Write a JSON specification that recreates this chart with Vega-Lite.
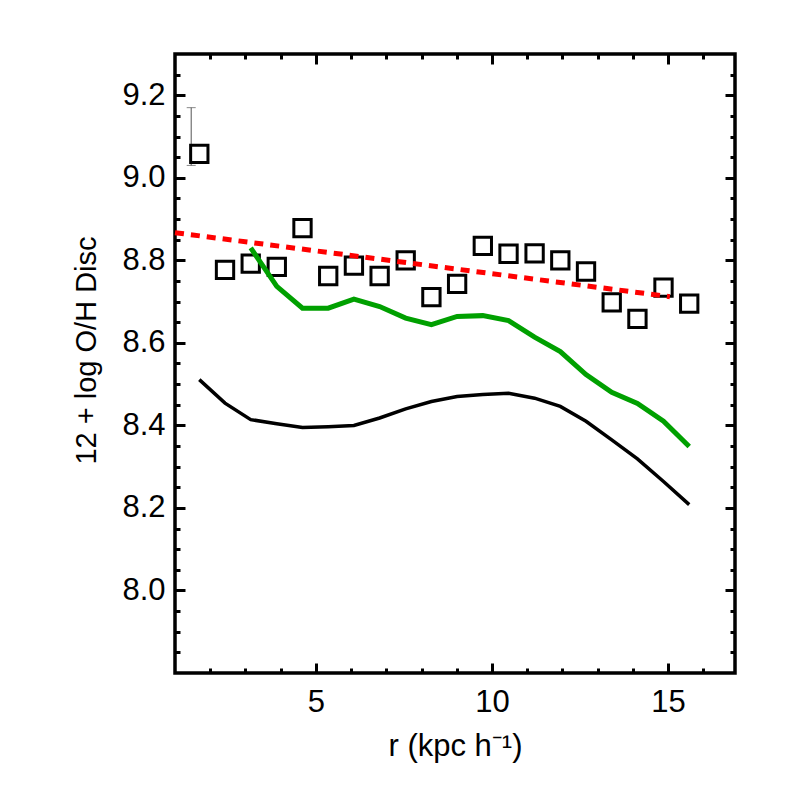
{
  "$schema": "https://vega.github.io/schema/vega-lite/v6.json",
  "width": 560,
  "height": 619,
  "autosize": {"type": "none"},
  "padding": {"left": 175, "top": 54, "right": 51, "bottom": 113},
  "background": "white",
  "config": {
    "view": {"stroke": "black", "strokeWidth": 3.5},
    "axis": {
      "grid": false,
      "domain": false,
      "labelFont": "Liberation Sans",
      "titleFont": "Liberation Sans",
      "labelFontSize": 31,
      "titleFontSize": 31,
      "labelColor": "black",
      "titleColor": "black",
      "tickColor": "black",
      "tickWidth": 3,
      "titleFontWeight": "normal",
      "labelFlush": false,
      "labelOverlap": false
    }
  },
  "datasets": {
    "squares": [
      {"r": 1.69, "oh": 9.058}, {"r": 2.42, "oh": 8.777}, {"r": 3.15, "oh": 8.792}, {"r": 3.89, "oh": 8.784},
      {"r": 4.62, "oh": 8.878}, {"r": 5.35, "oh": 8.762}, {"r": 6.08, "oh": 8.787}, {"r": 6.81, "oh": 8.762},
      {"r": 7.55, "oh": 8.800}, {"r": 8.28, "oh": 8.711}, {"r": 9.01, "oh": 8.743}, {"r": 9.74, "oh": 8.835},
      {"r": 10.47, "oh": 8.816}, {"r": 11.21, "oh": 8.817}, {"r": 11.94, "oh": 8.800}, {"r": 12.67, "oh": 8.773},
      {"r": 13.40, "oh": 8.698}, {"r": 14.13, "oh": 8.658}, {"r": 14.87, "oh": 8.734}, {"r": 15.60, "oh": 8.695}
    ],
    "green": [
      {"r": 3.15, "oh": 8.830}, {"r": 3.89, "oh": 8.737}, {"r": 4.62, "oh": 8.684}, {"r": 5.35, "oh": 8.684},
      {"r": 6.08, "oh": 8.706}, {"r": 6.81, "oh": 8.688}, {"r": 7.55, "oh": 8.660}, {"r": 8.28, "oh": 8.644},
      {"r": 9.01, "oh": 8.664}, {"r": 9.74, "oh": 8.666}, {"r": 10.47, "oh": 8.654}, {"r": 11.21, "oh": 8.614},
      {"r": 11.94, "oh": 8.579}, {"r": 12.67, "oh": 8.523}, {"r": 13.40, "oh": 8.480}, {"r": 14.13, "oh": 8.453},
      {"r": 14.87, "oh": 8.410}, {"r": 15.60, "oh": 8.349}
    ],
    "black": [
      {"r": 1.69, "oh": 8.511}, {"r": 2.42, "oh": 8.454}, {"r": 3.15, "oh": 8.414}, {"r": 3.89, "oh": 8.404},
      {"r": 4.62, "oh": 8.395}, {"r": 5.35, "oh": 8.397}, {"r": 6.08, "oh": 8.400}, {"r": 6.81, "oh": 8.418},
      {"r": 7.55, "oh": 8.440}, {"r": 8.28, "oh": 8.458}, {"r": 9.01, "oh": 8.470}, {"r": 9.74, "oh": 8.475},
      {"r": 10.47, "oh": 8.478}, {"r": 11.21, "oh": 8.466}, {"r": 11.94, "oh": 8.446}, {"r": 12.67, "oh": 8.410},
      {"r": 13.40, "oh": 8.365}, {"r": 14.13, "oh": 8.319}, {"r": 14.87, "oh": 8.264}, {"r": 15.60, "oh": 8.208}
    ],
    "fit": [
      {"r": 1.0, "oh": 8.867}, {"r": 15.05, "oh": 8.712}
    ],
    "err": [
      {"r": 1.46, "lo": 9.03, "hi": 9.17}
    ],
    "errcaps": [
      {"r": 1.46, "oh": 9.03}, {"r": 1.46, "oh": 9.17}
    ]
  },
  "resolve": {"axis": {"x": "independent", "y": "independent"}},
  "layer": [
    {
      "data": {"name": "err"},
      "mark": {"type": "rule", "color": "#555555", "strokeWidth": 1},
      "encoding": {
        "x": {"field": "r", "type": "quantitative", "scale": {"domain": [1, 16.9], "nice": false, "zero": false}, "axis": null},
        "y": {"field": "lo", "type": "quantitative", "scale": {"domain": [7.8, 9.3], "nice": false, "zero": false}, "axis": null},
        "y2": {"field": "hi"}
      }
    },
    {
      "data": {"name": "errcaps"},
      "mark": {"type": "tick", "orient": "horizontal", "color": "#555555", "size": 9, "thickness": 1},
      "encoding": {
        "x": {"field": "r", "type": "quantitative", "scale": {"domain": [1, 16.9], "nice": false, "zero": false}, "axis": null},
        "y": {"field": "oh", "type": "quantitative", "scale": {"domain": [7.8, 9.3], "nice": false, "zero": false}, "axis": null}
      }
    },
    {
      "data": {"name": "squares"},
      "mark": {"type": "point", "shape": "square", "filled": false, "stroke": "black", "strokeWidth": 3, "size": 300, "opacity": 1},
      "encoding": {
        "x": {
          "field": "r", "type": "quantitative",
          "scale": {"domain": [1, 16.9], "nice": false, "zero": false},
          "axis": {"orient": "bottom", "values": [5, 10, 15], "tickSize": -10, "labelPadding": 24,
                   "title": "r (kpc h⁻¹)", "titleX": 280, "titleY": 82, "titleBaseline": "alphabetic"}
        },
        "y": {
          "field": "oh", "type": "quantitative",
          "scale": {"domain": [7.8, 9.3], "nice": false, "zero": false},
          "axis": {"orient": "left", "values": [8.0, 8.2, 8.4, 8.6, 8.8, 9.0, 9.2], "format": ".1f", "tickSize": -10, "labelPadding": 20,
                   "title": "12 + log O/H Disc", "titleX": -80, "titleY": 296, "titleBaseline": "alphabetic", "titleFontSize": 29}
        }
      }
    },
    {
      "data": {"name": "green"},
      "mark": {"type": "line", "color": "#00a000", "strokeWidth": 5},
      "encoding": {
        "x": {
          "field": "r", "type": "quantitative",
          "scale": {"domain": [1, 16.9], "nice": false, "zero": false},
          "axis": {"orient": "bottom", "values": [2, 3, 4, 6, 7, 8, 9, 11, 12, 13, 14, 16], "labels": false, "tickSize": -5, "title": null}
        },
        "y": {
          "field": "oh", "type": "quantitative",
          "scale": {"domain": [7.8, 9.3], "nice": false, "zero": false},
          "axis": {"orient": "left", "values": [7.85, 7.9, 7.95, 8.05, 8.1, 8.15, 8.25, 8.3, 8.35, 8.45, 8.5, 8.55, 8.65, 8.7, 8.75, 8.85, 8.9, 8.95, 9.05, 9.1, 9.15, 9.25], "labels": false, "tickSize": -5, "title": null}
        }
      }
    },
    {
      "data": {"name": "black"},
      "mark": {"type": "line", "color": "black", "strokeWidth": 3.5},
      "encoding": {
        "x": {
          "field": "r", "type": "quantitative",
          "scale": {"domain": [1, 16.9], "nice": false, "zero": false},
          "axis": {"orient": "top", "values": [5, 10, 15], "labels": false, "tickSize": -10, "title": null}
        },
        "y": {
          "field": "oh", "type": "quantitative",
          "scale": {"domain": [7.8, 9.3], "nice": false, "zero": false},
          "axis": {"orient": "right", "values": [8.0, 8.2, 8.4, 8.6, 8.8, 9.0, 9.2], "labels": false, "tickSize": -10, "title": null}
        }
      }
    },
    {
      "data": {"name": "fit"},
      "mark": {"type": "line", "color": "#ff0000", "strokeWidth": 5, "strokeDash": [9, 7]},
      "encoding": {
        "x": {
          "field": "r", "type": "quantitative",
          "scale": {"domain": [1, 16.9], "nice": false, "zero": false},
          "axis": {"orient": "top", "values": [2, 3, 4, 6, 7, 8, 9, 11, 12, 13, 14, 16], "labels": false, "tickSize": -5, "title": null}
        },
        "y": {
          "field": "oh", "type": "quantitative",
          "scale": {"domain": [7.8, 9.3], "nice": false, "zero": false},
          "axis": {"orient": "right", "values": [7.85, 7.9, 7.95, 8.05, 8.1, 8.15, 8.25, 8.3, 8.35, 8.45, 8.5, 8.55, 8.65, 8.7, 8.75, 8.85, 8.9, 8.95, 9.05, 9.1, 9.15, 9.25], "labels": false, "tickSize": -5, "title": null}
        }
      }
    }
  ]
}
